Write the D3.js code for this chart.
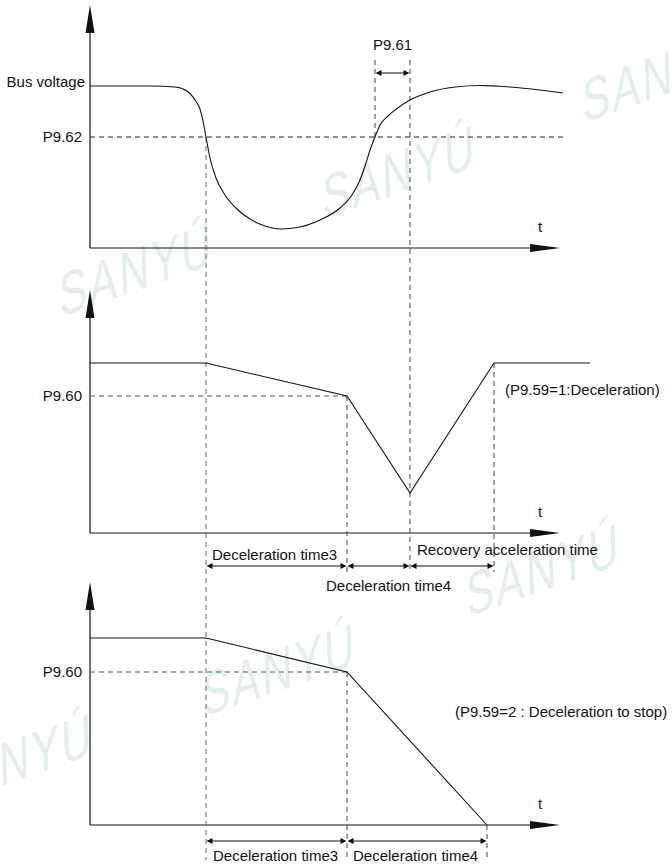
<!DOCTYPE html>
<html>
<head>
<meta charset="utf-8">
<script src="https://cdn.jsdelivr.net/npm/d3@7"></script>
<style>
  html, body { margin: 0; padding: 0; background: #fff; }
  svg { display: block; font-family: "Liberation Sans", Arial, sans-serif; }
</style>
</head>
<body>
<div id="chart"></div>
<script>
// ---------------- DATA ----------------
// time axis in arbitrary units, event instants
const eventNames = ["dropCross", "decelEnd", "riseCross", "recoverStart", "recoverEnd", "stopEnd"];
const eventTimes = [11.6, 25.7, 28.5, 32.0, 40.4, 39.7];

// Panel 1: bus voltage curve
const busT = [0, 6, 8.5, 9.7, 10.5, 11.0, 11.3, 11.6, 12.0, 12.6, 13.5, 14.8, 16.0, 17.5, 19.0, 21.0, 23.0, 25.0, 26.2, 27.0, 27.6, 28.0, 28.5, 29.0, 29.8, 30.5, 32.0, 34.0, 36.5, 39.0, 42.0, 45.0, 47.3];
const busV = [81, 81, 80.5, 78.5, 74, 69.5, 63.5, 55.5, 45, 35, 26.5, 19, 14.5, 11, 9.5, 10.5, 14, 20, 26.5, 34, 42.5, 49, 55.5, 61.5, 66, 69, 74, 78, 80.5, 81.25, 80.5, 79, 77.5];
const busLevel = 81;
const p962 = 55.5;

// Panel 2: frequency, P9.59 = 1 (deceleration)
const f1T = [0, 11.6, 25.7, 32.0, 40.4, 50];
const f1V = [85, 85, 68.5, 20, 85, 85];
const p960a = 68.5;

// Panel 3: frequency, P9.59 = 2 (deceleration to stop)
const f2T = [0, 11.6, 25.7, 39.7];
const f2V = [93.5, 93.5, 76.5, 0];
const p960b = 76.5;

// texts
const yLabelsTop = ["Bus voltage", "P9.62"];
const yLabelMid = "P9.60";
const yLabelBot = "P9.60";
const noteMid = "(P9.59=1:Deceleration)";
const noteBot = "(P9.59=2 : Deceleration to stop)";
const dimLabelsMid = ["Deceleration time3", "Deceleration time4", "Recovery acceleration time"];
const dimLabelsBot = ["Deceleration time3", "Deceleration time4"];
const watermarkText = "SANYÚ";

// ---------------- LAYOUT ----------------
const W = 672, H = 866;
const svg = d3.select("#chart").append("svg").attr("width", W).attr("height", H);

const ev = {};
eventNames.forEach((n, i) => ev[n] = eventTimes[i]);

const x = d3.scaleLinear().domain([0, 44]).range([90, 530]);
const xTip = 560;
const origins = [248, 533, 825];
const yS = origins.map(o => d3.scaleLinear().domain([0, 107.5]).range([o, o - 215]));
const [y1, y2, y3] = yS;

// watermarks (layout)
const wmPos = [[583, 123], [323, 219], [60, 317], [467, 617], [203, 717], [-60, 807]];
const wm = svg.append("g");
wmPos.forEach(p => {
  wm.append("text")
    .attr("transform", `translate(${p[0]},${p[1]}) rotate(-19) skewX(-17) scale(0.76,1)`)
    .attr("font-size", 58)
    .attr("fill", "#e2eee7")
    .attr("letter-spacing", 3)
    .text(watermarkText);
});

const ink = "#111";
const dashCol = "#444";

// axes lines and arrowheads
yS.forEach((ys, i) => {
  const o = origins[i];
  const top = ys.range()[1];
  const g = svg.append("g");
  g.append("line").attr("x1", x(0)).attr("x2", x(0)).attr("y1", o).attr("y2", top)
    .attr("stroke", ink).attr("stroke-width", 1.2);
  g.append("path").attr("d", `M${x(0) - 4.5},${top} L${x(0)},${top - 28} L${x(0) + 4.5},${top} Z`).attr("fill", ink);
  g.append("line").attr("x1", x(0)).attr("x2", x.range()[1]).attr("y1", o).attr("y2", o)
    .attr("stroke", ink).attr("stroke-width", 1.2);
  g.append("path").attr("d", `M${x.range()[1]},${o - 4} L${xTip},${o} L${x.range()[1]},${o + 4} Z`).attr("fill", ink);
  g.append("text").attr("x", 538).attr("y", o - 16).attr("font-size", 15).attr("fill", ink).text("t");
});

// y tick labels via d3 axes
function yLabels(scale, vals, labels) {
  const ax = d3.axisLeft(scale).tickValues(vals).tickFormat((d, i) => labels[i]).tickSize(0).tickPadding(8);
  const g = svg.append("g").attr("transform", `translate(${x(0)},0)`).call(ax);
  g.select(".domain").remove();
  g.selectAll("text").attr("font-size", 15).attr("font-family", "Liberation Sans, Arial, sans-serif").attr("fill", ink);
  return g;
}
const gTop = yLabels(y1, [busLevel, p962], yLabelsTop);
gTop.selectAll("text").filter((d, i) => i === 0).attr("dy", "0.0em").attr("x", -5);
yLabels(y2, [p960a], [yLabelMid]);
yLabels(y3, [p960b], [yLabelBot]);

// dashed helper
function dashed(x1, y1_, x2, y2_, col) {
  svg.append("line").attr("x1", x1).attr("y1", y1_).attr("x2", x2).attr("y2", y2_)
    .attr("stroke", col || dashCol).attr("stroke-width", 1).attr("stroke-dasharray", "5,4");
}

// horizontal thresholds
dashed(x(0), y1(p962), x(47.3), y1(p962), "#222");
dashed(x(0), y2(p960a), x(ev.decelEnd), y2(p960a), "#555");
dashed(x(0), y3(p960b), x(ev.decelEnd), y3(p960b), "#555");

// vertical event lines
dashed(x(ev.dropCross), y1(p962), x(ev.dropCross), 860, "#666");
dashed(x(ev.riseCross), 60, x(ev.riseCross), y1(p962));
dashed(x(ev.recoverStart), 60, x(ev.recoverStart), 569);
dashed(x(ev.decelEnd), y2(p960a), x(ev.decelEnd), 575);
dashed(x(ev.decelEnd), y3(p960b), x(ev.decelEnd), 860);
dashed(x(ev.recoverEnd), y2(85), x(ev.recoverEnd), 572);
dashed(x(ev.stopEnd), origins[2], x(ev.stopEnd), 859);

// curves
const lineCurve = d3.line().curve(d3.curveMonotoneX);
svg.append("path")
  .attr("d", lineCurve(busT.map((t, i) => [x(t), y1(busV[i])])))
  .attr("fill", "none").attr("stroke", ink).attr("stroke-width", 1.1);
const lineLin = d3.line();
svg.append("path")
  .attr("d", lineLin(f1T.map((t, i) => [x(t), y2(f1V[i])])))
  .attr("fill", "none").attr("stroke", ink).attr("stroke-width", 1.1);
svg.append("path")
  .attr("d", lineLin(f2T.map((t, i) => [x(t), y3(f2V[i])])))
  .attr("fill", "none").attr("stroke", ink).attr("stroke-width", 1.1);

// dimension arrows
function dimArrow(t1, t2, yy) {
  const a = x(t1) + 0.5, b = x(t2) - 0.5;
  const g = svg.append("g");
  g.append("line").attr("x1", a + 4).attr("x2", b - 4).attr("y1", yy).attr("y2", yy)
    .attr("stroke", ink).attr("stroke-width", 1);
  g.append("path").attr("d", `M${a},${yy} L${a + 6},${yy - 3} L${a + 6},${yy + 3} Z`).attr("fill", ink);
  g.append("path").attr("d", `M${b},${yy} L${b - 6},${yy - 3} L${b - 6},${yy + 3} Z`).attr("fill", ink);
}
function label(txt, xx, yy, anchor) {
  svg.append("text").attr("x", xx).attr("y", yy).attr("font-size", 15).attr("fill", ink)
    .attr("text-anchor", anchor || "start").text(txt);
}

// P9.61
dimArrow(ev.riseCross, ev.recoverStart, 73);
label("P9.61", (x(ev.riseCross) + x(ev.recoverStart)) / 2, 50, "middle");

// middle row
const rowMid = origins[1] + 33;
dimArrow(ev.dropCross, ev.decelEnd, rowMid);
dimArrow(ev.decelEnd, ev.recoverStart, rowMid);
dimArrow(ev.recoverStart, ev.recoverEnd, rowMid);
label(dimLabelsMid[0], x(ev.dropCross) + 6, rowMid - 6);
label(dimLabelsMid[1], x(ev.decelEnd) - 21, rowMid + 25);
label(dimLabelsMid[2], x(ev.recoverStart) + 7, rowMid - 11);
label(noteMid, 505, 395);

// bottom row
const rowBot = origins[2] + 16;
dimArrow(ev.dropCross, ev.decelEnd, rowBot);
dimArrow(ev.decelEnd, ev.stopEnd, rowBot);
label(dimLabelsBot[0], x(ev.dropCross) + 7, rowBot + 20);
label(dimLabelsBot[1], x(ev.decelEnd) + 6, rowBot + 20);
label(noteBot, 455, 717);
</script>
</body>
</html>
